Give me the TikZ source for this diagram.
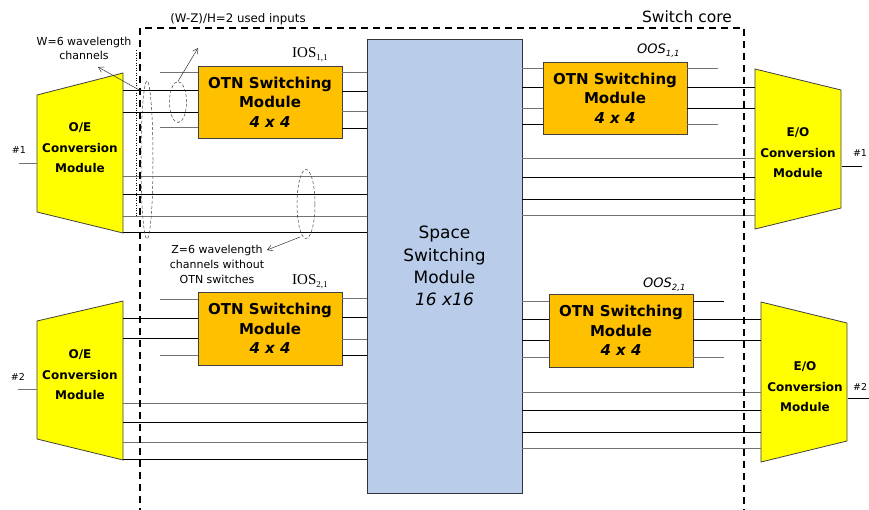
\documentclass[tikz,border=0pt]{standalone}
\usepackage{fontspec}
\setmainfont{DejaVu Sans}
\newfontfamily\seriffam{Liberation Serif}
\usetikzlibrary{arrows.meta,shapes.geometric}
\definecolor{oeyellow}{RGB}{255,255,0}
\definecolor{otnorange}{RGB}{255,192,0}
\definecolor{ssblue}{RGB}{185,205,235}
\tikzset{
  oeshape/.style={fill=oeyellow, draw=black!75, line width=0.8pt},
  oetext/.style={align=center, font=\fontsize{12}{20.5}\selectfont\bfseries, inner sep=0pt},
  otnbox/.style={rectangle, fill=otnorange, draw=black!75, line width=0.8pt, minimum width=144pt, align=center, font=\fontsize{15}{19.5}\selectfont\bfseries, inner sep=0pt},
  ssbox/.style={rectangle, fill=ssblue, draw=black!80, line width=0.8pt, minimum width=155pt, minimum height=454pt, align=center, font=\fontsize{17}{22.3}\selectfont, inner sep=0pt},
  ch/.style={line width=0.8pt, black},
  chg/.style={line width=0.8pt, black!55},
  ell/.style={draw=black!75, line width=0.5pt, dash pattern=on 3pt off 2pt},
  arr/.style={line width=0.5pt, black!80, -{Straight Barb[length=5pt,width=6pt]}},
  core/.style={line width=1.8pt, dash pattern=on 7pt off 5pt},
  lbl/.style={inner sep=0pt, align=center},
}
\begin{document}
\begin{tikzpicture}[x=1pt,y=-1pt]
\useasboundingbox (0,0) rectangle (869,509);

% ---------- modules ----------
\draw[oeshape] (37,95) -- (123,73) -- (123,233) -- (37,212) -- cycle;
\node[oetext] (oe1) at (80,148) {O/E\\Conversion\\Module};
\draw[oeshape] (37,321) -- (123,301) -- (123,460) -- (37,439) -- cycle;
\node[oetext] (oe2) at (80,375) {O/E\\Conversion\\Module};
\draw[oeshape] (755,69) -- (841,90) -- (841,208) -- (755,229) -- cycle;
\node[oetext] (eo1) at (798,153) {E/O\\Conversion\\Module};
\draw[oeshape] (761,302) -- (847,323) -- (847,441) -- (761,462) -- cycle;
\node[oetext] (eo2) at (805,387) {E/O\\Conversion\\Module};

\node[otnbox, minimum height=72pt] (ios1) at (270,102) {OTN Switching\\Module\\\textit{4 x 4}};
\node[otnbox, minimum height=73pt] (ios2) at (270,328.5) {OTN Switching\\Module\\\textit{4 x 4}};
\node[otnbox, minimum height=72pt] (oos1) at (615,98) {OTN Switching\\Module\\\textit{4 x 4}};
\node[otnbox, minimum height=73pt] (oos2) at (621,330.5) {OTN Switching\\Module\\\textit{4 x 4}};

\node[ssbox] (ss) at (444.5,266) {Space\\Switching\\Module\\\textit{16 x16}};

% ---------- reference x positions ----------
\coordinate (inA) at (160,0);
\coordinate (oe1R) at (123,0);
\coordinate (eo1L) at (755,0);
\coordinate (eo2L) at (761,0);
\coordinate (outA) at (718,0);
\coordinate (outB) at (724,0);

% ---------- input side, module 1 ----------
\draw[chg] (inA |- 0,72) -- (ios1.west |- 0,72);
\draw[ch]  (oe1R |- 0,90) -- (ios1.west |- 0,90);
\draw[ch]  (oe1R |- 0,112) -- (ios1.west |- 0,112);
\draw[chg] (inA |- 0,127) -- (ios1.west |- 0,127);
\draw[chg] (ios1.east |- 0,72) -- (ss.west |- 0,72);
\draw[ch]  (ios1.east |- 0,91) -- (ss.west |- 0,91);
\draw[chg] (ios1.east |- 0,111) -- (ss.west |- 0,111);
\draw[ch]  (ios1.east |- 0,128) -- (ss.west |- 0,128);
\draw[chg] (oe1R |- 0,176) -- (ss.west |- 0,176);
\draw[ch]  (oe1R |- 0,194) -- (ss.west |- 0,194);
\draw[chg] (oe1R |- 0,216) -- (ss.west |- 0,216);
\draw[ch]  (oe1R |- 0,232) -- (ss.west |- 0,232);

% ---------- input side, module 2 ----------
\draw[chg] (inA |- 0,299) -- (ios2.west |- 0,299);
\draw[ch]  (oe1R |- 0,318) -- (ios2.west |- 0,318);
\draw[ch]  (oe1R |- 0,338) -- (ios2.west |- 0,338);
\draw[chg] (inA |- 0,355) -- (ios2.west |- 0,355);
\draw[chg] (ios2.east |- 0,298) -- (ss.west |- 0,298);
\draw[ch]  (ios2.east |- 0,317) -- (ss.west |- 0,317);
\draw[chg] (ios2.east |- 0,339) -- (ss.west |- 0,339);
\draw[ch]  (ios2.east |- 0,355) -- (ss.west |- 0,355);
\draw[chg] (oe1R |- 0,403) -- (ss.west |- 0,403);
\draw[ch]  (oe1R |- 0,422) -- (ss.west |- 0,422);
\draw[chg] (oe1R |- 0,442) -- (ss.west |- 0,442);
\draw[ch]  (oe1R |- 0,459) -- (ss.west |- 0,459);

% ---------- output side, module 1 ----------
\draw[chg] (ss.east |- 0,68) -- (oos1.west |- 0,68);
\draw[ch]  (ss.east |- 0,87) -- (oos1.west |- 0,87);
\draw[chg] (ss.east |- 0,108) -- (oos1.west |- 0,108);
\draw[ch]  (ss.east |- 0,124) -- (oos1.west |- 0,124);
\draw[chg] (oos1.east |- 0,68) -- (outA |- 0,68);
\draw[ch]  (oos1.east |- 0,87) -- (eo1L |- 0,87);
\draw[ch]  (oos1.east |- 0,108) -- (eo1L |- 0,108);
\draw[chg] (oos1.east |- 0,124) -- (outA |- 0,124);
\draw[chg] (ss.east |- 0,158) -- (eo1L |- 0,158);
\draw[ch]  (ss.east |- 0,177) -- (eo1L |- 0,177);
\draw[ch]  (ss.east |- 0,199) -- (eo1L |- 0,199);
\draw[chg] (ss.east |- 0,215) -- (eo1L |- 0,215);

% ---------- output side, module 2 ----------
\draw[chg] (ss.east |- 0,301) -- (oos2.west |- 0,301);
\draw[ch]  (ss.east |- 0,319) -- (oos2.west |- 0,319);
\draw[ch]  (ss.east |- 0,340) -- (oos2.west |- 0,340);
\draw[chg] (ss.east |- 0,357) -- (oos2.west |- 0,357);
\draw[ch]  (oos2.east |- 0,301) -- (outB |- 0,301);
\draw[ch]  (oos2.east |- 0,319) -- (eo2L |- 0,319);
\draw[ch]  (oos2.east |- 0,340) -- (eo2L |- 0,340);
\draw[chg] (oos2.east |- 0,357) -- (outB |- 0,357);
\draw[chg] (ss.east |- 0,392) -- (eo2L |- 0,392);
\draw[ch]  (ss.east |- 0,410) -- (eo2L |- 0,410);
\draw[ch]  (ss.east |- 0,432) -- (eo2L |- 0,432);
\draw[chg] (ss.east |- 0,448) -- (eo2L |- 0,448);

% ---------- external ports ----------
\coordinate (p1in) at (19,163);  \coordinate (oe1W) at (37,163);
\coordinate (p2in) at (18,389);  \coordinate (oe2W) at (37,389);
\coordinate (eo1E) at (842,166); \coordinate (p1out) at (862,166);
\coordinate (eo2E) at (848,398); \coordinate (p2out) at (872,398);
\draw[chg] (p1in) -- (oe1W);
\draw[chg] (p2in) -- (oe2W);
\draw[ch] (eo1E) -- (p1out);
\draw[ch] (eo2E) -- (p2out);
\node[lbl, font=\fontsize{9.5}{11}\selectfont] (h1l) at (19,150) {\#1};
\node[lbl, font=\fontsize{9.5}{11}\selectfont] (h2l) at (18,377) {\#2};
\node[lbl, font=\fontsize{9.5}{11}\selectfont] (h1r) at (860,153) {\#1};
\node[lbl, font=\fontsize{9.5}{11}\selectfont, anchor=west] (h2r) at (853,387) {\#2};

% ---------- switch core ----------
\draw[core] (140,515) -- (140,28) -- (744,28) -- (744,515);
\node[lbl, font=\fontsize{15.5}{18}\selectfont] (corelbl) at (687,17) {Switch core};

% ---------- labels ----------
\node[lbl, anchor=base west, font=\seriffam\fontsize{15}{17}\selectfont] (ios1l) at (292,57) {IOS\raisebox{-3.5pt}{\fontsize{9}{9}\selectfont 1,1}};
\node[lbl, anchor=base west, font=\seriffam\fontsize{15}{17}\selectfont] (ios2l) at (292,284) {IOS\raisebox{-3.5pt}{\fontsize{9}{9}\selectfont 2,1}};
\node[lbl, anchor=base west, font=\itshape\fontsize{13}{15}\selectfont] (oos1l) at (637,53) {OOS\raisebox{-3.5pt}{\fontsize{8.5}{9}\selectfont 1,1}};
\node[lbl, anchor=base west, font=\itshape\fontsize{13}{15}\selectfont] (oos2l) at (643,287) {OOS\raisebox{-3.5pt}{\fontsize{8.5}{9}\selectfont 2,1}};

\node[lbl, font=\fontsize{11.8}{14}\selectfont] (usedlbl) at (238,19) {(W-Z)/H=2 used inputs};
\node[lbl, font=\fontsize{11}{14}\selectfont] (wlbl) at (84,48) {W=6 wavelength\\channels};
\node[lbl, font=\fontsize{11}{15}\selectfont] (zlbl) at (217,264) {Z=6 wavelength\\channels without\\OTN switches};

% ---------- ellipses, dotted marker, arrows ----------
\draw[line width=0.5pt, dotted] (136,50) -- (136,217);
\node[ell, ellipse, minimum width=12pt, minimum height=158pt, inner sep=0pt] (ellW) at (147,160) {};
\node[ell, ellipse, minimum width=17pt, minimum height=41pt, inner sep=0pt] (ellH) at (178,102) {};
\node[ell, ellipse, minimum width=18pt, minimum height=69pt, inner sep=0pt] (ellZ) at (306,204) {};
\coordinate (wstart) at (141,91);
\coordinate (wtip) at (98,67);
\coordinate (htip) at (198,48);
\coordinate (zstart) at (300,237);
\coordinate (ztip) at (267,250);
\draw[arr] (wstart) -- (wtip);
\draw[arr] (ellH.north) -- (htip);
\draw[arr] (zstart) -- (ztip);
\end{tikzpicture}
\end{document}
